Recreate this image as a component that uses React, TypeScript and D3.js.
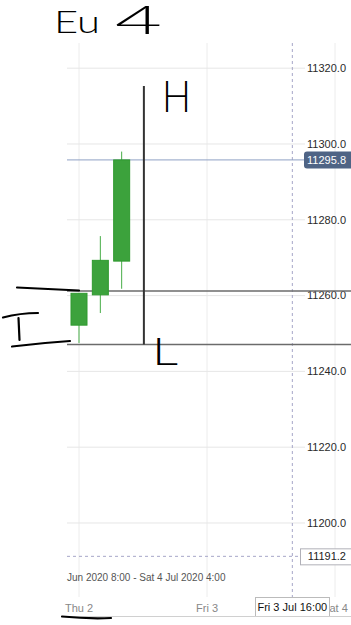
import React from "react";
import * as d3 from "d3";

// ---- data ----
const candleTimes = ["2020-07-02T00:00", "2020-07-02T04:00", "2020-07-02T08:00"];
const opens = [11252.2, 11260.2, 11269.1];
const highs = [11260.6, 11275.7, 11298.0];
const lows = [11247.5, 11255.4, 11261.8];
const closes = [11260.6, 11269.3, 11295.8];

const yTicks = [11200, 11220, 11240, 11260, 11280, 11300, 11320];
const xTickDates = ["2020-07-02T00:00", "2020-07-03T00:00", "2020-07-04T00:00"];
const xTickLabels = ["Thu 2", "Fri 3", "Sat 4"];

const lastPrice = 11295.8;
const markerPrice = 11191.2;
const cursorTime = "2020-07-03T16:00";
const cursorLabel = "Fri 3 Jul 16:00";
const rangeLabel = "Jun 2020 8:00 - Sat 4 Jul 2020 4:00";

// user-drawn levels
const drawnLevels = [11261.2, 11247.1];
const drawnVTime = "2020-07-02T12:10";
const drawnVRange = [11315.3, 11247.1];

const W = 351;
const H = 625;
const left = 67;
const top = 43;
const bottom = 597;
const axisX = 305;

export default function App() {
  const x = d3
    .scaleTime()
    .domain([new Date("2020-07-02T00:00"), new Date("2020-07-04T00:00")])
    .range([79, 335]);
  const y = d3.scaleLinear().domain([11180.47, 11326.65]).range([bottom, top]);
  const fmt = d3.format(".1f");
  const bodyW = 16;
  const font = "'Liberation Sans', Arial, sans-serif";
  const hand = "Lato, 'DejaVu Sans', sans-serif";

  const cx = x(new Date(cursorTime));
  const vx = x(new Date(drawnVTime));

  return (
    <svg
      width={W}
      height={H}
      style={{ position: "absolute", left: 0, top: 0, background: "#fff" }}
      fontFamily={font}
    >
      <defs>
        <clipPath id="satClip">
          <rect x={330} y={590} width={30} height={30} />
        </clipPath>
      </defs>
      <rect x={0} y={0} width={W} height={H} fill="#fff" />
      {/* vertical grid */}
      {xTickDates.map((d, i) => (
        <line
          key={"vg" + i}
          x1={x(new Date(d))}
          x2={x(new Date(d))}
          y1={top}
          y2={bottom}
          stroke="#ececec"
          strokeWidth={1}
        />
      ))}
      {/* horizontal grid */}
      {yTicks.map((t) => (
        <line
          key={"hg" + t}
          x1={left}
          x2={axisX}
          y1={y(t)}
          y2={y(t)}
          stroke="#e6e6e6"
          strokeWidth={1}
        />
      ))}
      {/* y tick labels */}
      {yTicks.map((t) => (
        <text
          key={"yl" + t}
          x={346}
          y={y(t)}
          dy="0.35em"
          textAnchor="end"
          fontSize={11}
          fill="#2a2a2a"
        >
          {fmt(t)}
        </text>
      ))}
      {/* crosshair vertical */}
      <line x1={cx} x2={cx} y1={top} y2={bottom} stroke="#a6a6c8" strokeDasharray="3,3" strokeWidth={1} />
      {/* marker dashed horizontal */}
      <line
        x1={left}
        x2={300}
        y1={y(markerPrice)}
        y2={y(markerPrice)}
        stroke="#a6a6c8"
        strokeDasharray="3,3"
        strokeWidth={1}
      />
      {/* last price line */}
      <line
        x1={left}
        x2={304}
        y1={y(lastPrice)}
        y2={y(lastPrice)}
        stroke="#8fa0c4"
        strokeWidth={1}
      />
      {/* drawn levels */}
      {drawnLevels.map((v, i) => (
        <line
          key={"dl" + i}
          x1={left}
          x2={W}
          y1={y(v)}
          y2={y(v)}
          stroke="#6b6b6b"
          strokeWidth={1.5}
        />
      ))}
      {/* candles */}
      {candleTimes.map((t, i) => {
        const xc = x(new Date(t));
        const o = opens[i];
        const c = closes[i];
        const yTop = y(Math.max(o, c));
        const yBot = y(Math.min(o, c));
        return (
          <g key={"c" + i}>
            <line x1={xc} x2={xc} y1={y(highs[i])} y2={y(lows[i])} stroke="#46ad46" strokeWidth={1} />
            <rect
              x={xc - bodyW / 2}
              y={yTop}
              width={bodyW}
              height={yBot - yTop}
              fill="#3ca23c"
              stroke="#2f9a2f"
              strokeWidth={1}
            />
          </g>
        );
      })}
      {/* drawn vertical */}
      <line
        x1={vx}
        x2={vx}
        y1={y(drawnVRange[0])}
        y2={y(drawnVRange[1])}
        stroke="#333"
        strokeWidth={2}
      />
      {/* last price label */}
      <rect x={304} y={y(lastPrice) - 8.5} width={50} height={17} rx={3} fill="#4f6485" />
      <text x={346} y={y(lastPrice)} dy="0.35em" textAnchor="end" fontSize={11} fill="#fff">
        {fmt(lastPrice)}
      </text>
      {/* marker label */}
      <rect
        x={300.5}
        y={y(markerPrice) - 7.5}
        width={55}
        height={16}
        fill="#fff"
        stroke="#b0b0b8"
        strokeWidth={1}
      />
      <text x={346} y={y(markerPrice)} dy="0.35em" textAnchor="end" fontSize={11} fill="#222">
        {fmt(markerPrice)}
      </text>
      {/* range text */}
      <text x={left} y={577} dy="0.35em" fontSize={10} fill="#555">
        {rangeLabel}
      </text>
      {/* x tick labels */}
      {xTickDates.map((d, i) => (
        <text
          key={"xl" + i}
          x={x(new Date(d))}
          y={608}
          dy="0.35em"
          textAnchor="middle"
          fontSize={11}
          fill="#888"
          clipPath={i === 2 ? "url(#satClip)" : undefined}
        >
          {xTickLabels[i]}
        </text>
      ))}
      {/* cursor label */}
      <rect x={255.5} y={597.5} width={74} height={19} fill="#fff" stroke="#bbb" strokeWidth={1} />
      <text x={cx} y={607} dy="0.35em" textAnchor="middle" fontSize={11} fill="#111">
        {cursorLabel}
      </text>
      {/* bottom border */}
      <line x1={left} x2={W} y1={616.5} y2={616.5} stroke="#d0d0d0" strokeWidth={1} />

      {/* handwritten annotations */}
      <g stroke="#000" strokeWidth={2.2} fill="none" strokeLinecap="round">
        <path d="M17,287.5 Q50,289 79,290.5" />
        <path d="M3,317.5 Q20,313 38,313" />
        <path d="M18.5,318 L19.5,340" />
        <path d="M12,346.5 Q40,343 70,341" />
        <path d="M62,616.5 Q88,619 111,618" />
      </g>
      <g fontFamily={hand} fontWeight={300} fill="#000">
        <text x={54} y={33} fontSize={31} textLength={46} lengthAdjust="spacingAndGlyphs">
          Eu
        </text>
        <text x={115} y={34} fontSize={40} textLength={47} lengthAdjust="spacingAndGlyphs">
          4
        </text>
        <text x={162} y={112} fontSize={44} textLength={29} lengthAdjust="spacingAndGlyphs">
          H
        </text>
        <text x={152} y={365} fontSize={38} textLength={26} lengthAdjust="spacingAndGlyphs">
          L
        </text>
      </g>
    </svg>
  );
}
